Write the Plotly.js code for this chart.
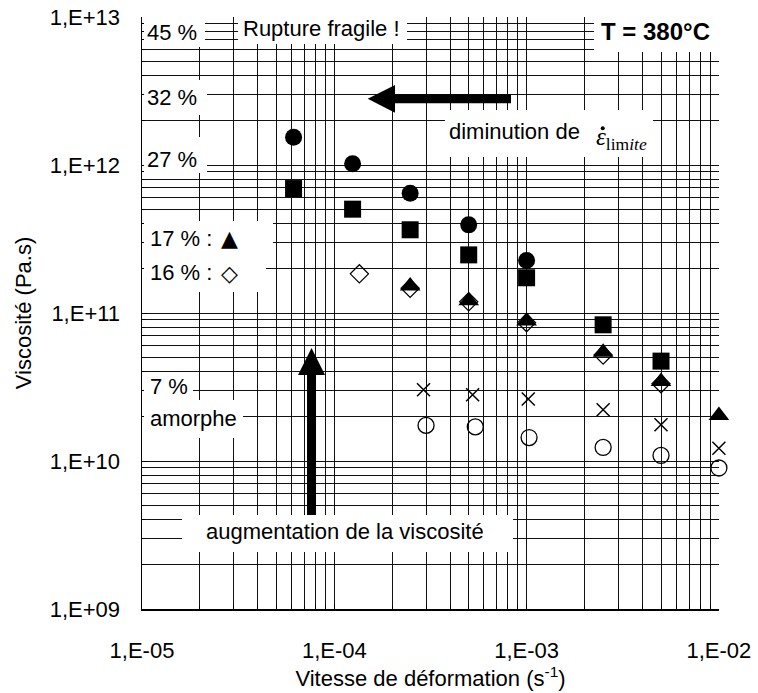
<!DOCTYPE html>
<html><head><meta charset="utf-8">
<script src="https://cdn.plot.ly/plotly-3.0.1.min.js"></script>
<style>html,body{margin:0;padding:0;background:#fff}</style>
</head><body>
<div id="chart" style="width:758px;height:693px"></div>
<script>
// ---- tick labels ----
const xTickVals = [1e-5, 1e-4, 1e-3, 1e-2];
const xTickText = ['1,E-05', '1,E-04', '1,E-03', '1,E-02'];
const yTickVals = [1e9, 1e10, 1e11, 1e12, 1e13];
const yTickText = ['1,E+09', '1,E+10', '1,E+11', '1,E+12', '1,E+13'];

// ---- series (strain rate s^-1, viscosity Pa.s) ----
// 32 % : filled circles
const x32 = [6.14e-5, 1.245e-4, 2.48e-4, 5.0e-4, 1.0e-3];
const y32 = [1.54e12, 1.02e12, 6.45e11, 3.94e11, 2.26e11];
// 27 % : filled squares
const x27 = [6.14e-5, 1.245e-4, 2.48e-4, 5.0e-4, 1.0e-3, 2.5e-3, 5.0e-3];
const y27 = [6.93e11, 5.03e11, 3.65e11, 2.47e11, 1.73e11, 8.32e10, 4.73e10];
// 17 % : filled triangles
const x17 = [2.48e-4, 5.0e-4, 1.0e-3, 2.5e-3, 5.0e-3, 1.0e-2];
const y17 = [1.52e11, 1.21e11, 8.84e10, 5.43e10, 3.44e10, 2.03e10];
// 16 % : open diamonds
const x16 = [1.35e-4, 2.48e-4, 5.0e-4, 1.0e-3, 2.5e-3, 5.0e-3];
const y16 = [1.84e11, 1.47e11, 1.19e11, 8.6e10, 5.2e10, 3.33e10];
// 7 % : crosses
const x7 = [2.91e-4, 5.24e-4, 1.02e-3, 2.5e-3, 5.0e-3, 1.0e-2];
const y7 = [3.03e10, 2.80e10, 2.62e10, 2.22e10, 1.76e10, 1.22e10];
// amorphe : open circles
const xAm = [3.0e-4, 5.41e-4, 1.03e-3, 2.5e-3, 5.0e-3, 1.0e-2];
const yAm = [1.74e10, 1.70e10, 1.44e10, 1.235e10, 1.09e10, 8.97e9];

const FONT = 'Liberation Sans, Arial, sans-serif';

function tr(x, y, marker) {
  return {x: x, y: y, type: 'scatter', mode: 'markers', cliponaxis: false,
          hoverinfo: 'skip', showlegend: false, marker: marker};
}
const data = [
  tr(x16, y16, {symbol: 'diamond-open', size: 14, color: '#000', line: {color: '#000', width: 1.2}}),
  tr(x17, y17, {symbol: 'triangle-up', size: 18, color: '#000', line: {width: 0}}),
  tr(x27, y27, {symbol: 'square', size: 17, color: '#000', line: {width: 0}}),
  tr(x32, y32, {symbol: 'circle', size: 17, color: '#000', line: {width: 0}}),
  tr(x7, y7, {symbol: 'x-thin-open', size: 13, color: '#000', line: {color: '#000', width: 1.5}}),
  tr(xAm, yAm, {symbol: 'circle-open', size: 16, color: '#000', line: {color: '#000', width: 1.3}})
];

function wbox(x0, x1, y0, y1) {
  return {type: 'rect', xref: 'paper', yref: 'paper', x0: x0, x1: x1, y0: y0, y1: y1,
          fillcolor: '#fff', line: {width: 0}, layer: 'above'};
}
const shapes = [
  wbox(0.0035, 0.1092, 0.9493, 1.012),
  wbox(0.1664, 0.4593, 0.9544, 1.012),
  wbox(0.7834, 1.003, 0.9409, 1.012),
  wbox(0.0035, 0.1127, 0.8345, 0.8936),
  wbox(0.0035, 0.1127, 0.7365, 0.7973),
  wbox(0.5251, 0.8856, 0.7635, 0.8429),
  wbox(0.0035, 0.2270, 0.6030, 0.6554),
  wbox(0.0035, 0.2149, 0.5355, 0.6030),
  wbox(0.0035, 0.0884, 0.3530, 0.4003),
  wbox(0.0035, 0.1750, 0.2889, 0.3530),
  wbox(0.0693, 0.6430, 0.0963, 0.1588),
  {type: 'path', xref: 'paper', yref: 'paper', layer: 'above', fillcolor: '#000', line: {width: 0},
   path: 'M0.2860,0.1588 L0.3016,0.1588 L0.3016,0.3953 L0.3172,0.3953 L0.2938,0.4409 L0.2704,0.3953 L0.2860,0.3953 Z'},
  {type: 'path', xref: 'paper', yref: 'paper', layer: 'above', fillcolor: '#000', line: {width: 0},
   path: 'M0.6395,0.8694 L0.4385,0.8694 L0.4385,0.8851 L0.3912,0.8620 L0.4385,0.8383 L0.4385,0.8542 L0.6395,0.8542 Z'},
  // dot over epsilon
  {type: 'circle', xref: 'paper', yref: 'paper', layer: 'above', fillcolor: '#000', line: {width: 0},
   x0: 0.7950, x1: 0.8020, y0: 0.8085, y1: 0.8155}
];

function ann(text, x, y, xanchor, extra) {
  return Object.assign({text: text, x: x, y: y, xref: 'paper', yref: 'paper', xanchor: xanchor,
    yanchor: 'middle', showarrow: false, font: {family: FONT, size: 22, color: '#000'}}, extra || {});
}
const annotations = [
  ann('45 %', 0.052, 0.973, 'center'),
  ann('Rupture fragile !', 0.3114, 0.981, 'center'),
  ann('<b>T = 380°C</b>', 0.890, 0.976, 'center', {font: {family: FONT, size: 24, color: '#000'}}),
  ann('32 %', 0.052, 0.8637, 'center'),
  ann('27 %', 0.052, 0.760, 'center'),
  ann('diminution de', 0.762, 0.8074, 'right'),
  ann('<i>ε</i><sub>lim<i>ite</i></sub>', 0.7834, 0.7956, 'left',
      {font: {family: 'Liberation Serif, Times New Roman, serif', size: 25, color: '#000'}}),
  ann('17 % :', 0.0104, 0.6262, 'left'),
  ann('▲', 0.1513, 0.6262, 'center', {font: {family: 'DejaVu Sans', size: 22, color: '#000'}}),
  ann('16 % :', 0.0104, 0.5681, 'left'),
  ann('◇', 0.1513, 0.5671, 'center', {font: {family: 'DejaVu Sans', size: 22, color: '#000'}}),
  ann('7 %', 0.0104, 0.3755, 'left'),
  ann('amorphe', 0.0104, 0.3221, 'left'),
  ann('augmentation de la viscosité', 0.3518, 0.1306, 'center')
];

const gridC = '#111';
const layout = {
  width: 758, height: 693,
  margin: {l: 142, r: 39, t: 17, b: 84, pad: 0},
  paper_bgcolor: '#fff', plot_bgcolor: '#fff',
  font: {family: FONT, size: 22, color: '#000'},
  showlegend: false,
  xaxis: {
    type: 'log', range: [-5, -1.9995], tickmode: 'array', tickvals: xTickVals, ticktext: xTickText,
    ticks: 'inside', ticklen: 5, tickcolor: '#000', ticklabelstandoff: 21,
    showgrid: true, gridcolor: gridC, gridwidth: 1, zeroline: false,
    showline: true, linecolor: '#000', linewidth: 1.5,
    minor: {dtick: 'D1', showgrid: true, gridcolor: gridC, gridwidth: 1, ticks: 'inside', ticklen: 3, tickcolor: '#000'},
    tickfont: {family: FONT, size: 22, color: '#000'},
    title: {text: 'Vitesse de déformation (s<sup>-1</sup>)', font: {family: FONT, size: 22, color: '#000'}, standoff: 8}
  },
  yaxis: {
    type: 'log', range: [9, 13], tickmode: 'array', tickvals: yTickVals, ticktext: yTickText,
    ticks: 'inside', ticklen: 5, tickcolor: '#000', ticklabelstandoff: 16,
    showgrid: true, gridcolor: gridC, gridwidth: 1, zeroline: false,
    showline: true, linecolor: '#000', linewidth: 1.5,
    minor: {dtick: 'D1', showgrid: true, gridcolor: gridC, gridwidth: 1, ticks: 'inside', ticklen: 3, tickcolor: '#000'},
    tickfont: {family: FONT, size: 22, color: '#000'},
    title: {text: 'Viscosité (Pa.s)', font: {family: FONT, size: 22, color: '#000'}, standoff: 12}
  },
  shapes: shapes,
  annotations: annotations
};

Plotly.newPlot('chart', data, layout, {staticPlot: true, displayModeBar: false});
</script>
</body></html>
